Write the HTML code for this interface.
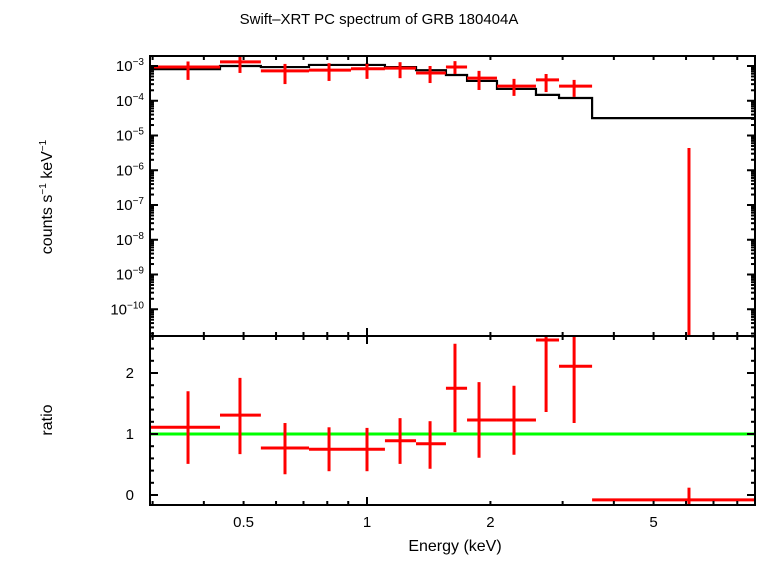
<!DOCTYPE html>
<html><head><meta charset="utf-8"><style>
body{margin:0;background:#fff;width:758px;height:556px;overflow:hidden}
svg text{font-family:"Liberation Sans",sans-serif;fill:#000}
</style></head><body>
<svg id="c" width="758" height="556"></svg>
<script>
// data
const binLo=[0.296,0.438,0.551,0.722,0.914,1.106,1.317,1.558,1.754,2.075,2.583,2.94,3.54];
const binHi=[0.438,0.551,0.722,0.914,1.106,1.317,1.558,1.754,2.075,2.583,2.94,3.54,8.84];
const binMid=[0.366,0.490,0.631,0.808,1.0,1.204,1.425,1.639,1.876,2.283,2.734,3.2,6.1];
const countsLog=[-3.03,-2.88,-3.14,-3.12,-3.08,-3.06,-3.2,-3.03,-3.35,-3.58,-3.4,-3.58,-11.5];
const countsHiLog=[-2.87,-2.74,-2.94,-2.92,-2.92,-2.89,-3.0,-2.86,-3.14,-3.37,-3.23,-3.4,-5.36];
const countsLoLog=[-3.40,-3.2,-3.52,-3.43,-3.37,-3.35,-3.49,-3.23,-3.69,-3.86,-3.75,-3.89,-12];
const modelLog=[-3.09,-3.0,-3.03,-2.97,-2.97,-3.03,-3.12,-3.26,-3.43,-3.66,-3.83,-3.92,-4.5];
const ratio=[1.11,1.31,0.77,0.75,0.75,0.89,0.84,1.75,1.23,1.23,2.54,2.11,-0.08];
const ratioHi=[1.70,1.92,1.18,1.11,1.10,1.26,1.21,2.48,1.85,1.79,2.7,2.7,0.12];
const ratioLo=[0.51,0.67,0.34,0.39,0.39,0.51,0.43,1.03,0.61,0.66,1.36,1.18,-0.2];
const xTickLabels=[0.5,1,2,5];
const yTopDecades=[-3,-4,-5,-6,-7,-8,-9,-10];
const yBotLabels=[0,1,2];

const svg=document.getElementById('c');
const NS='http://www.w3.org/2000/svg';
const L=150,R=755,T1=56,B1=336,T2=336,B2=505;
const X=e=>367+410*Math.log10(e);
const Y1=lg=>66+(-3-lg)*34.75;
const Y2=r=>495-61*r;
function mk(t,a,p){const e=document.createElementNS(NS,t);for(const k in a)e.setAttribute(k,a[k]);(p||svg).appendChild(e);return e;}
function ln(x1,y1,x2,y2,c,w,p){return mk('line',{x1,y1,x2,y2,stroke:c,'stroke-width':w},p);}
function clampT(y){return Math.max(T1,Math.min(B1,y));}
function clampB(y){return Math.max(T2,Math.min(B2,y));}

// title
const tt=mk('text',{x:379,y:24,'text-anchor':'middle','font-size':'15'});tt.textContent='Swift–XRT PC spectrum of GRB 180404A';



// model step line
const gm=mk('g',{});


let d='';
for(let i=0;i<binLo.length;i++){const y=clampT(Y1(modelLog[i]));d+=(i?'L':'M')+X(binLo[i])+','+y+'L'+Math.min(R,X(binHi[i]))+','+y;}
mk('path',{d,fill:'none',stroke:'#000','stroke-width':2.2},gm);

// top data
const gd=mk('g',{});


for(let i=0;i<binLo.length;i++){
 const y=Y1(countsLog[i]);
 if(y<=B1&&y>=T1) ln(X(binLo[i]),y,Math.min(R,X(binHi[i])),y,'#f00',3,gd);
 ln(X(binMid[i]),clampT(Y1(countsHiLog[i])),X(binMid[i]),clampT(Y1(countsLoLog[i])),'#f00',3,gd);
}
// ratio line
const gl=ln(L,Y2(1),R,Y2(1),'#0f0',3);


const gr=mk('g',{});


for(let i=0;i<binLo.length;i++){
 const y=Y2(ratio[i]);
 if(y>=T2&&y<=B2) ln(X(binLo[i]),y,Math.min(R,X(binHi[i])),y,'#f00',3,gr);
 ln(X(binMid[i]),clampB(Y2(ratioHi[i])),X(binMid[i]),clampB(Y2(ratioLo[i])),'#f00',3,gr);
}

// axes frames
const ga=mk('g',{});


mk('rect',{x:L,y:T1,width:R-L,height:B1-T1,fill:'none',stroke:'#000','stroke-width':2},ga);
mk('rect',{x:L,y:T2,width:R-L,height:B2-T2,fill:'none',stroke:'#000','stroke-width':2},ga);
// x ticks
for(let dec=-1;dec<=0;dec++)for(let m=1;m<10;m++){
 const e=m*Math.pow(10,dec); if(e<0.296||e>8.84)continue;
 const x=X(e), len=m===1?8:4;
 [[T1,1],[B1,-1],[T2,1],[B2,-1]].forEach(([y,s])=>ln(x,y,x,y+s*len,'#000',2,ga));
}
// top y ticks
for(let dec=-11;dec<=-3;dec++)for(let m=1;m<10;m++){
 const lg=dec+Math.log10(m), y=Y1(lg); if(y<T1||y>B1)continue;
 const len=m===1?8:4;
 ln(L,y,L+len,y,'#000',2,ga); ln(R,y,R-len,y,'#000',2,ga);
}
// bottom y ticks
for(let k=0;k<=13;k++){const r=k*0.2,y=Y2(r);if(y<T2||y>B2)continue;const len=(k%5===0)?8:4;
 ln(L,y,L+len,y,'#000',2,ga); ln(R,y,R-len,y,'#000',2,ga);}

// labels
xTickLabels.forEach(v=>{const t=mk('text',{x:X(v),y:527,'text-anchor':'middle','font-size':'15'});t.textContent=String(v);
 
 });
yTopDecades.forEach(p=>{const t=mk('text',{x:144,y:Y1(p)+5,'text-anchor':'end','font-size':'15'});
 t.innerHTML='10<tspan dy="-6" font-size="10">−'+(-p)+'</tspan>';
 
 });
yBotLabels.forEach(v=>{const t=mk('text',{x:134,y:Y2(v)+5,'text-anchor':'end','font-size':'15'});t.textContent=String(v);
 
 });
const xl=mk('text',{x:455,y:551,'text-anchor':'middle','font-size':'16'});xl.textContent='Energy (keV)';


const yl=mk('text',{x:0,y:0,'text-anchor':'middle','font-size':'16',transform:'translate(52,197) rotate(-90)'});
yl.innerHTML='counts s<tspan dy="-6" font-size="10">−1</tspan><tspan dy="6"> keV</tspan><tspan dy="-6" font-size="10">−1</tspan>';


const rl=mk('text',{x:0,y:0,'text-anchor':'middle','font-size':'16',transform:'translate(52,420) rotate(-90)'});rl.textContent='ratio';


</script>
</body></html>
